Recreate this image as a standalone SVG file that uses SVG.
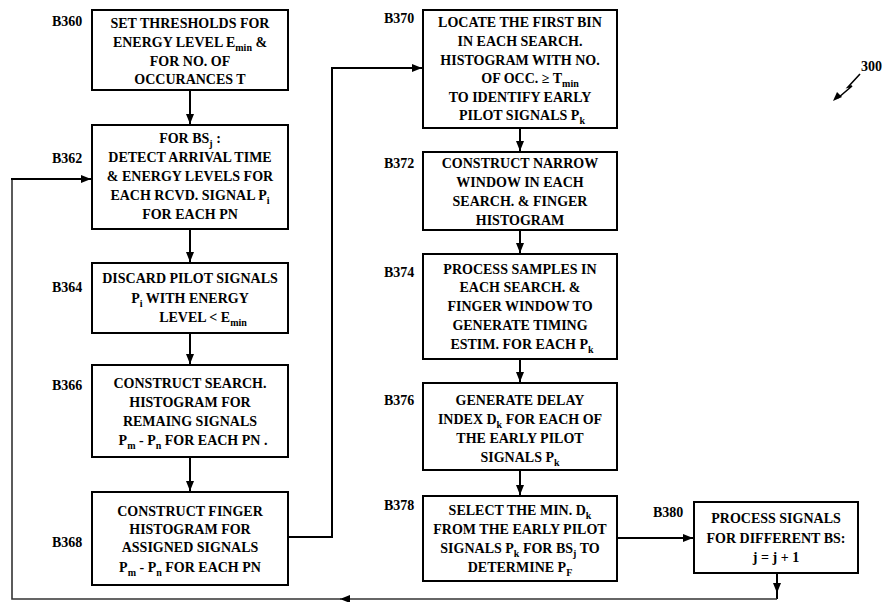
<svg xmlns="http://www.w3.org/2000/svg" width="885" height="602" viewBox="0 0 885 602">
<style>
.box{fill:#fff;stroke:#000;stroke-width:2}
.t{font-family:"Liberation Serif","Times New Roman",serif;font-weight:bold;font-size:14px;fill:#000;text-anchor:middle}
.lbl{font-family:"Liberation Serif","Times New Roman",serif;font-weight:bold;font-size:14px;fill:#000}
.s{font-size:10px}
.ln{fill:none;stroke:#000;stroke-width:2}
.bl{fill:none;stroke:#333;stroke-width:1.6}
</style>
<defs>
<marker id="ah" markerWidth="10" markerHeight="8" refX="10" refY="4" orient="auto" markerUnits="userSpaceOnUse">
<path d="M0,0 L10,4 L0,8 Z" fill="#000"/>
</marker>
</defs>

<g id="connectors">
<line class="ln" x1="190" y1="90" x2="190" y2="124" marker-end="url(#ah)"/>
<line class="ln" x1="190" y1="229" x2="190" y2="262" marker-end="url(#ah)"/>
<line class="ln" x1="190" y1="333" x2="190" y2="364" marker-end="url(#ah)"/>
<line class="ln" x1="190" y1="457" x2="190" y2="491" marker-end="url(#ah)"/>
<polyline class="ln" points="288,537 332,537 332,68 422,68" marker-end="url(#ah)"/>
<line class="ln" x1="520" y1="128" x2="520" y2="151" marker-end="url(#ah)"/>
<line class="ln" x1="520" y1="230" x2="520" y2="253" marker-end="url(#ah)"/>
<line class="ln" x1="520" y1="359" x2="520" y2="382" marker-end="url(#ah)"/>
<line class="ln" x1="520" y1="470" x2="520" y2="495" marker-end="url(#ah)"/>
<line class="ln" x1="617" y1="538" x2="693" y2="538" marker-end="url(#ah)"/>
<line class="ln" x1="777" y1="573" x2="777" y2="593" marker-end="url(#ah)"/>
<line class="ln" x1="777" y1="590" x2="777" y2="599"/>
<line class="bl" x1="777" y1="599" x2="350" y2="599"/>
<line class="bl" x1="350" y1="599" x2="340" y2="599" marker-end="url(#ah)"/>
<polyline class="bl" points="342,599 12,599 12,179"/>
<polyline class="ln" points="12,180 12,179 91,179" marker-end="url(#ah)"/>
</g>

<g id="B360">
<rect class="box" x="92" y="10" width="196" height="80"/>
<text class="lbl" x="52" y="26">B360</text>
<text class="t" x="190" y="28">SET THRESHOLDS FOR</text>
<text class="t" x="190" y="47">ENERGY LEVEL E<tspan class="s" dy="4">min</tspan><tspan dy="-4"> &amp;</tspan></text>
<text class="t" x="190" y="66">FOR NO. OF</text>
<text class="t" x="190" y="84">OCCURANCES T</text>
</g>

<g id="B362">
<rect class="box" x="92" y="125" width="196" height="104"/>
<text class="lbl" x="52" y="163">B362</text>
<text class="t" x="190" y="143">FOR BS<tspan class="s" dy="4">j</tspan><tspan dy="-4"> :</tspan></text>
<text class="t" x="190" y="162">DETECT ARRIVAL TIME</text>
<text class="t" x="190" y="181">&amp; ENERGY LEVELS FOR</text>
<text class="t" x="190" y="200">EACH RCVD. SIGNAL P<tspan class="s" dy="4">i</tspan></text>
<text class="t" x="190" y="219">FOR EACH PN</text>
</g>

<g id="B364">
<rect class="box" x="92" y="263" width="196" height="70"/>
<text class="lbl" x="52" y="292">B364</text>
<text class="t" x="190" y="283">DISCARD PILOT SIGNALS</text>
<text class="t" x="190" y="303">P<tspan class="s" dy="4">i</tspan><tspan dy="-4"> WITH ENERGY</tspan></text>
<text class="t" x="203" y="322">LEVEL &lt; E<tspan class="s" dy="4">min</tspan></text>
</g>

<g id="B366">
<rect class="box" x="92" y="365" width="196" height="92"/>
<text class="lbl" x="52" y="390">B366</text>
<text class="t" x="190" y="388">CONSTRUCT SEARCH.</text>
<text class="t" x="190" y="407">HISTOGRAM FOR</text>
<text class="t" x="190" y="426">REMAING SIGNALS</text>
<text class="t" x="193" y="445">P<tspan class="s" dy="4">m</tspan><tspan dy="-4"> - P</tspan><tspan class="s" dy="4">n</tspan><tspan dy="-4"> FOR EACH PN .</tspan></text>
</g>

<g id="B368">
<rect class="box" x="92" y="492" width="196" height="93"/>
<text class="lbl" x="52" y="547">B368</text>
<text class="t" x="190" y="516">CONSTRUCT FINGER</text>
<text class="t" x="190" y="534">HISTOGRAM FOR</text>
<text class="t" x="190" y="552">ASSIGNED SIGNALS</text>
<text class="t" x="190" y="572">P<tspan class="s" dy="4">m</tspan><tspan dy="-4"> - P</tspan><tspan class="s" dy="4">n</tspan><tspan dy="-4"> FOR EACH PN</tspan></text>
</g>

<g id="B370">
<rect class="box" x="423" y="10" width="194" height="118"/>
<text class="lbl" x="384" y="23">B370</text>
<text class="t" x="520" y="27">LOCATE THE FIRST BIN</text>
<text class="t" x="520" y="46">IN EACH SEARCH.</text>
<text class="t" x="520" y="65">HISTOGRAM WITH NO.</text>
<text class="t" x="530" y="83">OF OCC. ≥ T<tspan class="s" dy="4">min</tspan></text>
<text class="t" x="520" y="102">TO IDENTIFY EARLY</text>
<text class="t" x="522" y="120">PILOT SIGNALS P<tspan class="s" dy="4">k</tspan></text>
</g>

<g id="B372">
<rect class="box" x="423" y="152" width="194" height="78"/>
<text class="lbl" x="384" y="168">B372</text>
<text class="t" x="520" y="168">CONSTRUCT NARROW</text>
<text class="t" x="520" y="187">WINDOW IN EACH</text>
<text class="t" x="520" y="206">SEARCH. &amp; FINGER</text>
<text class="t" x="520" y="225">HISTOGRAM</text>
</g>

<g id="B374">
<rect class="box" x="423" y="254" width="194" height="105"/>
<text class="lbl" x="384" y="277">B374</text>
<text class="t" x="520" y="274">PROCESS SAMPLES IN</text>
<text class="t" x="520" y="292">EACH SEARCH. &amp;</text>
<text class="t" x="520" y="311">FINGER WINDOW TO</text>
<text class="t" x="520" y="330">GENERATE TIMING</text>
<text class="t" x="522" y="349">ESTIM. FOR EACH P<tspan class="s" dy="4">k</tspan></text>
</g>

<g id="B376">
<rect class="box" x="423" y="383" width="194" height="87"/>
<text class="lbl" x="384" y="405">B376</text>
<text class="t" x="520" y="405">GENERATE DELAY</text>
<text class="t" x="520" y="424">INDEX D<tspan class="s" dy="4">k</tspan><tspan dy="-4"> FOR EACH OF</tspan></text>
<text class="t" x="520" y="443">THE EARLY PILOT</text>
<text class="t" x="520" y="462">SIGNALS P<tspan class="s" dy="4">k</tspan></text>
</g>

<g id="B378">
<rect class="box" x="423" y="496" width="194" height="85"/>
<text class="lbl" x="384" y="510">B378</text>
<text class="t" x="520" y="515">SELECT THE MIN. D<tspan class="s" dy="4">k</tspan></text>
<text class="t" x="520" y="534">FROM THE EARLY PILOT</text>
<text class="t" x="520" y="553">SIGNALS P<tspan class="s" dy="4">k</tspan><tspan dy="-4"> FOR BS</tspan><tspan class="s" dy="4">j</tspan><tspan dy="-4"> TO</tspan></text>
<text class="t" x="520" y="572">DETERMINE P<tspan class="s" dy="4">F</tspan></text>
</g>

<g id="B380">
<rect class="box" x="694" y="502" width="164" height="71"/>
<text class="lbl" x="653" y="517">B380</text>
<text class="t" x="776" y="523">PROCESS SIGNALS</text>
<text class="t" x="776" y="543">FOR DIFFERENT BS:</text>
<text class="t" x="776" y="562">j = j + 1</text>
</g>

<g id="ref300">
<text class="lbl" x="861" y="71">300</text>
<polyline fill="none" stroke="#000" stroke-width="1.6" points="860,74 848,87 852,86 838,98"/>
<path d="M833,101 L837,92 L842,97 Z" fill="#000"/>
</g>
</svg>
